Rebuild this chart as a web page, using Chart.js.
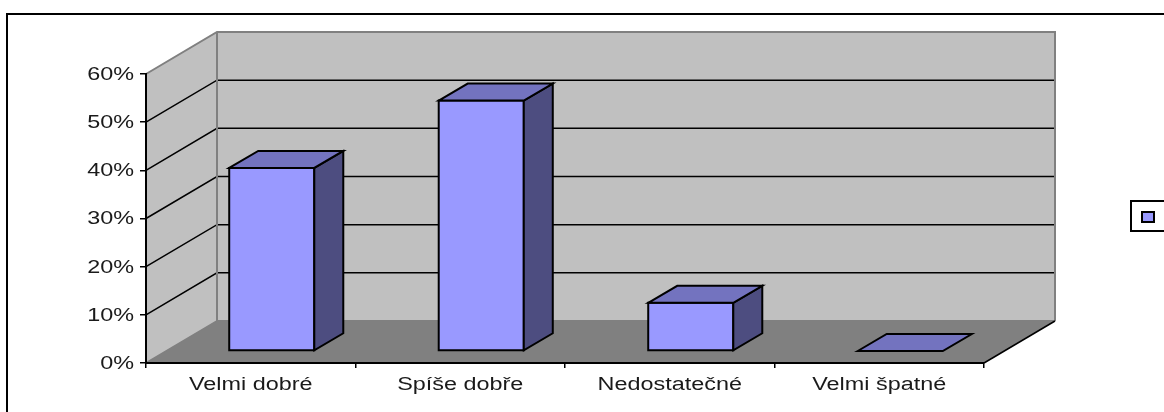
<!DOCTYPE html>
<html><head><meta charset="utf-8">
<style>html,body{margin:0;padding:0;background:#fff}canvas{display:block}</style>
<script src="https://cdn.jsdelivr.net/npm/chart.js@4"></script></head>
<body><div style="width:1164px;height:412px"><canvas id="c" width="1164" height="412"></canvas></div>
<script>
const categories = ["Velmi dobré","Spíše dobře","Nedostatečné","Velmi špatné"];
const values = [38,52,10,0];
const yTicks = [0,10,20,30,40,50,60];
const depthX = 71, depthY = 42;
const barDepthX = 29, barDepthY = 17;
const barShiftX = 21, barShiftY = 12;
const textStretch = 1.3;

function poly(ctx, pts, fill, stroke, lw){
  ctx.beginPath();
  pts.forEach((p,i)=> i?ctx.lineTo(p[0],p[1]):ctx.moveTo(p[0],p[1]));
  ctx.closePath();
  if(fill){ctx.fillStyle=fill;ctx.fill();}
  if(stroke){ctx.strokeStyle=stroke;ctx.lineWidth=lw||1;ctx.lineJoin='miter';ctx.stroke();}
}
const box3d = {
  id:'box3d',
  beforeDraw(chart){
    const ctx=chart.ctx, {left:l,right:r,top:t,bottom:b}=chart.chartArea, y=chart.scales.y;
    const dx=depthX, dy=depthY;
    // axis labels are wide in the reference: stretch every library text horizontally
    if(!ctx._stretched){
      const orig=ctx.fillText.bind(ctx);
      ctx.fillText=function(s,px,py){
        ctx.save();ctx.translate(px,py+1);ctx.scale(textStretch,1);orig(s,0,0);ctx.restore();
      };
      ctx._stretched=true;
    }
    ctx.save();
    // outer frame
    ctx.strokeStyle='#000';ctx.lineWidth=2;
    ctx.beginPath();ctx.moveTo(7,412);ctx.lineTo(7,14);ctx.lineTo(1164,14);ctx.stroke();
    // walls
    poly(ctx,[[l+dx,t-dy],[r+dx,t-dy],[r+dx,b-dy],[l+dx,b-dy]],'#c0c0c0');
    poly(ctx,[[l,t],[l+dx,t-dy],[l+dx,b-dy],[l,b]],'#c0c0c0');
    poly(ctx,[[l,b],[l+dx,b-dy],[r+dx,b-dy],[r,b]],'#808080');
    // grid lines from y scale
    ctx.strokeStyle='#000';ctx.lineWidth=1.5;
    yTicks.forEach(v=>{
      if(v===0||v===60) return;
      const py=y.getPixelForValue(v);
      ctx.beginPath();ctx.moveTo(l,py);ctx.lineTo(l+dx,py-dy);ctx.lineTo(r+dx,py-dy);ctx.stroke();
    });
    // wall edges
    ctx.strokeStyle='#808080';ctx.lineWidth=2;
    ctx.beginPath();
    ctx.moveTo(l,t);ctx.lineTo(l+dx,t-dy);ctx.lineTo(r+dx,t-dy);ctx.lineTo(r+dx,b-dy);
    ctx.moveTo(l+dx,t-dy);ctx.lineTo(l+dx,b-dy);ctx.lineTo(r+dx,b-dy);
    ctx.moveTo(l,b);ctx.lineTo(l+dx,b-dy);
    ctx.stroke();
    // floor right edge
    ctx.strokeStyle='#000';ctx.lineWidth=1.5;
    ctx.beginPath();ctx.moveTo(r,b);ctx.lineTo(r+dx,b-dy);ctx.stroke();
    ctx.restore();
  },
  beforeDatasetDraw(chart){
    chart.ctx.save();
    chart.ctx.translate(barShiftX,-barShiftY);
  },
  afterDatasetDraw(chart,args){
    const ctx=chart.ctx, meta=args.meta, ds=chart.data.datasets[args.index];
    meta.data.forEach(el=>{
      const p=el.getProps(['x','y','base','width'],true);
      const x0=p.x-p.width/2, x1=p.x+p.width/2, top=p.y, bot=p.base;
      const dx=barDepthX, dy=barDepthY;
      if(bot-top>0.5){
        poly(ctx,[[x0,top],[x1,top],[x1,bot],[x0,bot]],null,'#000',2);
        poly(ctx,[[x1,top],[x1+dx,top-dy],[x1+dx,bot-dy],[x1,bot]],ds.sideColor,'#000',2);
      }
      poly(ctx,[[x0,top],[x0+dx,top-dy],[x1+dx,top-dy],[x1,top]],ds.topColor,'#000',2);
    });
    ctx.restore();
  },
  afterDraw(chart){
    const ctx=chart.ctx, ds=chart.data.datasets[0];
    ctx.save();
    // legend box, running off the right edge
    ctx.fillStyle='#fff';ctx.fillRect(1131,201,40,30);
    ctx.strokeStyle='#000';ctx.lineWidth=2;ctx.strokeRect(1131,201,40,30);
    ctx.fillStyle=ds.backgroundColor;ctx.fillRect(1142,212,12,10);
    ctx.strokeStyle='#000';ctx.lineWidth=2;ctx.strokeRect(1142,212,12,10);
    ctx.restore();
  }
};
new Chart(document.getElementById('c'),{
  type:'bar',
  data:{labels:categories,datasets:[{
    label:'',data:values,
    backgroundColor:'#9999ff',sideColor:'#4d4d80',topColor:'#7373bf',
    borderWidth:0,
    categoryPercentage:1,barPercentage:0.406
  }]},
  options:{
    responsive:false,animation:false,
    layout:{padding:{left:0,right:180,top:74,bottom:0}},
    plugins:{legend:{display:false},title:{display:false},tooltip:{enabled:false}},
    scales:{
      x:{
        afterFit(s){s.height=49;},
        grid:{display:true,drawOnChartArea:false,drawTicks:true,tickLength:5,color:'#000',lineWidth:1.5,offset:true},
        border:{display:true,color:'#000',width:2},
        ticks:{color:'#1a1a1a',font:{family:'"Liberation Sans",Arial,sans-serif',size:18},padding:5,maxRotation:0}
      },
      y:{
        min:0,max:60,
        afterFit(s){s.width=146;},
        afterBuildTicks(s){s.ticks=yTicks.map(v=>({value:v}));},
        grid:{display:true,drawOnChartArea:false,drawTicks:true,tickLength:6,color:'#000',lineWidth:1.5},
        border:{display:true,color:'#000',width:2},
        ticks:{color:'#1a1a1a',font:{family:'"Liberation Sans",Arial,sans-serif',size:18},padding:6,callback:v=>v+'%'}
      }
    }
  },
  plugins:[box3d]
});
</script></body></html>
